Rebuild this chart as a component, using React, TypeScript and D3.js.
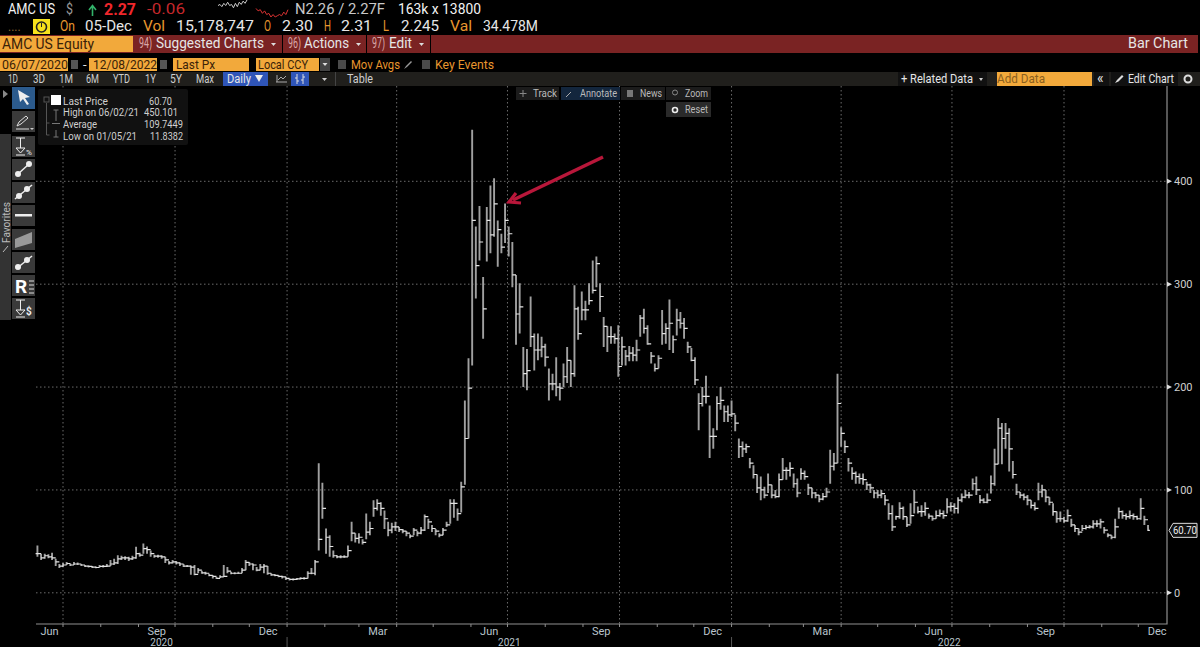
import * as d3 from 'd3';

const barStart = new Date(2020, 5, 10);
const barStepDays = 3;

const barClose = [
  38,34,36,35,34,30,26,27,28.5,27,
  28,28,27,26,25.6,25,24.6,25.6,25.6,26,
  28,29,33,34,34,33,34,38,36.6,43,
  42,38,35.6,35.6,35,32,29,30,29,28,
  26,26,25,18,22,19.4,19,17,16,14,
  15.5,16,21,19,19,19,22,29.5,28,27,
  22,25,26,19,17.5,17,16,15.5,14,13,
  13,13.6,14,14,19,19,30,52,82,54,
  45,36,35,35,35,41,58,53,54,49,
  59,62.5,82,87,82,72,61,64,64,61.5,
  60,58,55,61,58,61,74,69,62.5,60,
  56,61,66,87,87,77,103,150,199,362,
  318,341,276,362,348,378,353,336,362,349,
  309,271,278,213,216,249,236,236,239,229,
  203,203,200,199,210,226,213,276,252,275,
  275,284,294,320,288,259,249,249,247,220,
  239,230,233,231,236,267,257,242,230,218,
  228,252,257,262,246,265,262,257,239,226,
  207,184,191,191,152,152,184,187,176,173,
  174,165,142,140,142,126,115,102,100,95,
  105,95,93.5,110,119,119,121,106,97,116,
  113,102,97,95,91,93.5,98,123,126,184,
  155,142,126,116,113,111,110,105,102,97,
  95,96.5,90,77,64,74,82,74,66,75,
  88,79,79,82,74.5,72,75,77,75,83.6,
  84,82,90,93,95,95,106,100,90,88,
  90,106,125,160,150,155,140,115,98,95,
  93,90,85,82,98,100,93,88,79,72,
  72,70,75,66,62.5,59,62.5,63.5,64,67,
  67,69,61,56,54,64,79,75,74,75,
  74,72,82,71,60.7,
];

const barHigh = [
  46,38,38,37.5,39,33,28,29,30,28.5,
  30,29.5,28,27,26.5,26,25.6,27,27,28,
  32,33,36.6,36,35.5,35,36,44.7,39,48,
  45,41,37,37,36.5,35,31,32,31,29.5,
  28,27,26.5,27,24,21.5,20.5,18.5,17,15.5,
  17,27,25,20.5,20,20.5,24,32,30,28.5,
  25,28,28,26,19,18,17,16.5,15.5,14,
  14,14.5,15,15,21,24,32,126,107,62.5,
  56,41,36.5,36.5,36.5,46,69,58,58,52,
  77,69,90,91,88,80,69,68,69,64,
  62,60,57,63,60,64,76,72,66,62,
  58,63,69,91,91,82,108,187,228,450,
  356,376,307,375,396,403,362,349,378.5,356,
  341,309,301,239,237,288,252,252,249,242,
  218,213,229,204,223,239,226,299,278,293,
  284,301,323,327,301,268,259,259,252,260,
  249,236,240,239,246,270,276,260,234,223,
  231,275,262,285,250,276,273,267,244,238,
  229,194,200,211,182,160,191,200,182,182,
  187,173,150,147,145,131,124,115,113,103,
  116,105,100,116,131,122,127,116,111,121,
  119,106,102,98,95,97,102,139,136,213,
  161,148,131,122,118,116,116,108,106,100,
  100,100,95,87,85,75,88,84,74,87,
  100,84,85,88,77,75,80,81,80,92,
  88,87,93,96.5,100,98,111,113,95,92,
  96.5,114,140,170,165,165,160,128,106,98,
  96.5,95,90,88,107,105,100,93,87,79,
  79,74,81,72,66,62.5,66,66,66,70.6,
  70.6,72,64,58,56,72,83,80,77,80,
  77,75,92,75,66,
];

const barLow = [
  35,32,33,33.5,32,26,24,25,27,26,
  27,27,26,25,24.5,24,23.8,24.5,24.5,25,
  26,27,28,32,32,31,32,33,35,38,
  38,35,34,34,33,29,27.5,28.5,27.5,26,
  25,25,17.5,17,19,18.5,17.5,16,14,13.5,
  14.5,15.5,19,18,18,18.5,19,22,26,22,
  21,22,19,17.5,16.5,16,15,14,12.5,12,
  12,12.5,13,13,14,18,17,41,72,38,
  35,34,33.5,33.5,34,35,50,49,48,47,
  52,56,74,80,75,62,55,58,60,59,
  58,55,53,56,55,57,60,62,59,56,
  54,56,64,67,73,70,78,105,150,221,
  286,323,247,322,330,346,317,330,340,327,
  297,241,252,200,197,239,216,226,229,220,
  187,197,191,187,200,204,200,210,246,265,
  265,280,291,297,273,239,234,242,242,210,
  221,221,225,225,225,249,252,241,223,215,
  218,241,242,236,233,250,257,247,233,225,
  202,158,181,184,131,140,158,178,166,166,
  171,157,131,132,136,121,111,97,90,92,
  97,92,92,93,110,110,113,102,93,110,
  110,95,92,92,88,90,93,106,119,126,
  142,136,118,110,106,106,105,100,97,92,
  92,92,85,71,60,71,72,71,64,67,
  77,77,74,75,72,70,72,74,72,77,
  79,77,77,88,92,92,100,95,87,87,
  87,96.5,104,125,125,140,118,111,95,92,
  90,85,82,80,90,93,88,85,75,68,
  69,68,69,64,59,56,60,61.5,62.5,62.5,
  64,62.5,57.7,54,52,53,72,72,71,72,
  71,71,71,66,60,
];

const yTicks = [0, 100, 200, 300, 400];
const quarterMonths = ['2020-06', '2020-09', '2020-12', '2021-03', '2021-06', '2021-09', '2021-12', '2022-03', '2022-06', '2022-09', '2022-12'];
const monthNames: Record<string, string> = { '06': 'Jun', '09': 'Sep', '12': 'Dec', '03': 'Mar' };
const years = [2020, 2021, 2022];
const lastPrice = 60.7;

const sparkWhite = [5, 4, 6, 3, 5, 2, 5, 4, 7, 3, 6, 2, 4, 1, 3, 0];
const sparkRed = [2, 4, 3, 6, 4, 7, 6, 9, 7, 9, 8, 7, 8, 5, 7, 3];

const rangeButtons: [string, number, number][] = [['1D', 8, 10], ['3D', 33, 12], ['1M', 59, 14], ['6M', 86, 13], ['YTD', 113, 17], ['1Y', 145, 11], ['5Y', 170, 12], ['Max', 196, 18]];

const quoteRow: [string, number, number, string][] = [
  ['On', 60, 15, '#e8962e'], ['05-Dec', 85, 47, '#e6e6e6'], ['Vol', 143, 22, '#e8962e'], ['15,178,747', 176, 78, '#e6e6e6'],
  ['O', 264, 7, '#e8962e'], ['2.30', 282, 31, '#e6e6e6'], ['H', 324, 7, '#e8962e'], ['2.31', 341, 31, '#e6e6e6'],
  ['L', 383, 6, '#e8962e'], ['2.245', 401, 38, '#e6e6e6'], ['Val', 450, 22, '#e8962e'], ['34.478M', 483, 55, '#e6e6e6'],
];

const legendRows = [
  { label: 'Last Price', w: 45, value: '60.70', vx: 149, vw: 23, y: 105 },
  { label: 'High on 06/02/21', w: 76, value: '450.101', vx: 144, vw: 34, y: 116 },
  { label: 'Average', w: 34, value: '109.7449', vx: 144, vw: 39, y: 128 },
  { label: 'Low on 01/05/21', w: 74, value: '11.8382', vx: 150, vw: 33, y: 140 },
];

const FONT = 'Roboto, "Liberation Sans", sans-serif';
const ORANGE = '#f2a93b';
const AMBER = '#e8962e';
const MAROON = '#7a2323';
const INK = '#3a2208';

const plot = { left: 36, right: 1167, top: 86, bottom: 624 };

// w squeezes the text to the width it has in the reference
function T({ x, y, c = '#e6e6e6', s = 12, a, w, fw, children }: any) {
  return (
    <text x={x} y={y} fill={c} fontSize={s} textAnchor={a} fontWeight={fw} fontFamily={FONT}
      textLength={w} lengthAdjust={w ? 'spacingAndGlyphs' : undefined}>
      {children}
    </text>
  );
}

function ToolButton({ y, children }: any) {
  return (
    <g transform={`translate(12,${y})`}>
      <rect width={23} height={21} fill="#3a3a3a" />
      {children}
    </g>
  );
}

export default function App() {
  const x = d3.scaleTime()
    .domain([new Date(2020, 6, 1), new Date(2022, 9, 1)])
    .range([63, 1064]);
  const y = d3.scaleLinear().domain([0, 400]).range([592.8, 181.3]);

  const barDates = barClose.map((_, i) => d3.timeDay.offset(barStart, i * barStepDays));
  const half = (x(barDates[1]) - x(barDates[0])) / 2;

  const stems = d3.path();
  const ticks = d3.path();
  barDates.forEach((d, i) => {
    const px = x(d);
    stems.moveTo(px, y(barHigh[i]));
    stems.lineTo(px, y(barLow[i]));
    const open = i > 0 ? barClose[i - 1] : barClose[0];
    ticks.moveTo(px - half, y(open));
    ticks.lineTo(px, y(open));
    ticks.moveTo(px, y(barClose[i]));
    ticks.lineTo(px + half, y(barClose[i]));
  });

  const gridMonths = d3.timeMonth.range(new Date(2020, 6, 1), new Date(2022, 11, 2), 3);
  const minorMonths = d3.timeMonth.range(new Date(2020, 6, 1), new Date(2022, 11, 2));
  const yearEdges = [plot.left, x(new Date(2021, 0, 1)), x(new Date(2022, 0, 1)), plot.right];

  const monthLabelX = (m: string) => {
    const [yr, mo] = m.split('-').map(Number);
    const a = Math.max(plot.left, x(new Date(yr, mo - 1, 1)));
    const b = x(new Date(yr, mo, 1));
    return (a + b) / 2;
  };

  const sparkX = d3.scaleLinear().domain([0, sparkWhite.length - 1]);
  const sparkY = d3.scaleLinear().domain([0, 9]);
  const whiteLine = d3.line<number>().x((_, i) => sparkX.range([218, 247])(i)).y(d => sparkY.range([0, 10])(d));
  const redLine = d3.line<number>().x((_, i) => sparkX.range([256, 288])(i)).y(d => sparkY.range([6, 17])(d));

  return (
    <svg width={1200} height={647} viewBox="0 0 1200 647" style={{ position: 'absolute', left: 0, top: 0, background: '#000' }}>
      <rect width={1200} height={647} fill="#000" />

      {/* quote header */}
      <g>
        <T x={8} y={14} s={15} c="#f2f2f2" w={47}>AMC US</T>
        <T x={66} y={14} s={15} c="#999" w={7}>$</T>
        <path d="M92.500 16V6M89 10l3.500-4.500L96 10" stroke="#32b36a" strokeWidth={1.6} fill="none" />
        <T x={104} y={15} s={16} c="#f0272c" fw={700} w={32}>2.27</T>
        <T x={147} y={14} s={15} c="#c5282c" w={38}>-0.06</T>
        <path d={whiteLine(sparkWhite) ?? ''} stroke="#ccc" fill="none" />
        <path d={redLine(sparkRed) ?? ''} stroke="#d33" fill="none" />
        <T x={295} y={14} s={15} c="#c8c8c8" w={90}>N2.26 / 2.27F</T>
        <T x={398} y={14} s={15} c="#f2f2f2" w={83}>163k x 13800</T>

        <T x={8} y={31} s={12} c="#8a6a30">....</T>
        <rect x={33} y={19} width={17} height={15} fill="#f6e11c" />
        <circle cx={41.500} cy={27} r={5} fill="none" stroke="#222" strokeWidth={1.6} />
        <path d="M41.500 27v-4" stroke="#222" />
        {quoteRow.map(([label, qx, qw, qc]) => (
          <T key={label} x={qx} y={31} s={15} c={qc} w={qw}>{label}</T>
        ))}
      </g>

      {/* red command bar */}
      <rect x={0} y={35} width={1198} height={18} fill={MAROON} />
      <rect x={0} y={36} width={133} height={16} fill={ORANGE} />
      <T x={2} y={49} s={15} c={INK} w={92}>AMC US Equity</T>
      <T x={139} y={48} s={14} c="#d9a8a8" w={13}>94)</T>
      <T x={156} y={48} s={15} w={108}>Suggested Charts</T>
      <path d="M271 43l5 0-2.500 3z" fill="#ddd" />
      <rect x={282} y={35} width={1} height={18} fill="#000" />
      <T x={288} y={48} s={14} c="#d9a8a8" w={13}>96)</T>
      <T x={304} y={48} s={15} w={45}>Actions</T>
      <path d="M356 43l5 0-2.500 3z" fill="#ddd" />
      <rect x={366} y={35} width={1} height={18} fill="#000" />
      <T x={372} y={48} s={14} c="#d9a8a8" w={13}>97)</T>
      <T x={389} y={48} s={15} w={23}>Edit</T>
      <path d="M419 43l5 0-2.500 3z" fill="#ddd" />
      <rect x={430} y={35} width={1} height={18} fill="#000" />
      <T x={1128} y={48} s={15} w={60}>Bar Chart</T>

      {/* date range row */}
      <rect x={0} y={58} width={68} height={13} fill={ORANGE} />
      <T x={2} y={69} s={13} c={INK} w={66}>06/07/2020</T>
      <rect x={71} y={60} width={7} height={9} fill="#555" />
      <T x={83} y={69} s={13}>-</T>
      <rect x={89} y={58} width={68} height={13} fill={ORANGE} />
      <T x={93} y={69} s={13} c={INK} w={64}>12/08/2022</T>
      <rect x={160} y={60} width={7} height={9} fill="#555" />
      <rect x={173} y={58} width={76} height={13} fill={ORANGE} />
      <T x={176} y={69} s={13} c={INK} w={39}>Last Px</T>
      <rect x={256} y={58} width={63} height={13} fill={ORANGE} />
      <T x={258} y={69} s={13} c={INK} w={50}>Local CCY</T>
      <rect x={320} y={58} width={10} height={13} fill="#444" />
      <path d="M322.500 63l5 0-2.500 3z" fill="#ddd" />
      <rect x={338} y={60} width={8} height={9} fill="#4a4a4a" />
      <T x={351} y={69} s={13} c={AMBER} w={49}>Mov Avgs</T>
      <path d="M404 69l2-3 5-5 1 1-5 5z" fill="#999" />
      <rect x={422} y={60} width={8} height={9} fill="#4a4a4a" />
      <T x={435} y={69} s={13} c={AMBER} w={59}>Key Events</T>

      {/* toolbar row */}
      <rect x={0} y={72} width={1200} height={14} fill="#201f1c" />
      {rangeButtons.map(([label, bx, bw]) => (
        <T key={label} x={bx} y={83} s={12} c="#cfcfcf" w={bw}>{label}</T>
      ))}
      <rect x={223} y={72} width={45} height={14} fill="#2f55b8" />
      <T x={227} y={83} s={12.500} w={24}>Daily</T>
      <path d="M255 75h8l-4 7z" fill="#eee" />
      <path d="M276 82h11M277 82v-7M278 80l3-3 2 2 3-3" stroke="#aaa" fill="none" />
      <rect x={291} y={72} width={18} height={14} fill="#2f55b8" />
      <path d="M297 74v10M303 74v10M295 78h2M297 81h2M303 77h2M301 80h2" stroke="#ddd" fill="none" />
      <path d="M322 78l5 0-2.500 3z" fill="#ccc" />
      <rect x={335} y={72} width={1} height={14} fill="#444" />
      <T x={347} y={83} s={12.500} c="#cfcfcf" w={26}>Table</T>
      <rect x={898} y={72} width={89} height={14} fill="#111" />
      <T x={901} y={83} s={13} w={72}>+ Related Data</T>
      <path d="M979 78l4 0-2 3z" fill="#ccc" />
      <rect x={997} y={72} width={95} height={14} fill={ORANGE} />
      <T x={997} y={83} s={13} c="#8a5f1e" w={48}>Add Data</T>
      <rect x={1094} y={72} width={15} height={14} fill="#111" />
      <T x={1097} y={83} s={14}>«</T>
      <rect x={1111} y={72} width={67} height={14} fill="#111" />
      <path d="M1115 83l2-3 5-5 1.500 1.500-5 5z" fill="#ddd" />
      <T x={1128} y={83} s={13} w={46}>Edit Chart</T>
      <circle cx={1188} cy={79} r={3.500} fill="none" stroke="#ddd" strokeWidth={2} />

      {/* grid */}
      <g stroke="#6b6b6b" strokeWidth={1} strokeDasharray="1.5 2.5">
        {gridMonths.map(d => (
          <line key={+d} x1={x(d)} x2={x(d)} y1={plot.top} y2={plot.bottom} />
        ))}
        {yTicks.map(t => (
          <line key={t} x1={plot.left} x2={plot.right} y1={y(t)} y2={y(t)} />
        ))}
      </g>

      {/* price bars */}
      <path d={stems.toString()} stroke="#a0a0a0" strokeWidth={1.9} fill="none" />
      <path d={ticks.toString()} stroke="#e4e4e4" strokeWidth={1.2} fill="none" />

      {/* annotation arrow */}
      <path d="M603 157L513 200" stroke="#b8173a" strokeWidth={3.6} fill="none" />
      <path d="M516 193L509 202L521 203" stroke="#b8173a" strokeWidth={3.2} fill="none" />

      {/* axes */}
      <path d={`M${plot.left} ${plot.bottom}H${plot.right}V${plot.top}`} stroke="#8f8f8f" strokeWidth={1.2} fill="none" />
      {minorMonths.map(d => (
        <line key={+d} x1={x(d)} x2={x(d)} y1={plot.bottom} y2={plot.bottom + 3} stroke="#8f8f8f" />
      ))}
      {yTicks.map(t => (
        <g key={t}>
          <path d={`M${plot.right} ${y(t) - 2.500}l5 2.500-5 2.500z`} fill="#ddd" />
          <T x={1174} y={y(t) + 4} s={11} c="#cfcfcf">{t}</T>
        </g>
      ))}
      {quarterMonths.map(m => (
        <T key={m} x={monthLabelX(m)} y={635} s={11} a="middle" c="#b9c4cc">{monthNames[m.slice(5)]}</T>
      ))}
      {years.map((yr, i) => (
        <T key={yr} x={(yearEdges[i] + yearEdges[i + 1]) / 2} y={645.500} s={10} a="middle" c="#b9c4cc">{yr}</T>
      ))}
      {yearEdges.slice(1, 3).map(e => (
        <line key={e} x1={e} x2={e} y1={637} y2={647} stroke="#555" />
      ))}

      {/* last price flag */}
      <path d={`M1169 ${y(lastPrice)}l4-7h24v14h-24z`} fill="#111" stroke="#ddd" />
      <T x={1173} y={y(lastPrice) + 4} s={11} c="#eee" w={24}>60.70</T>

      {/* legend */}
      <rect x={38} y={89} width={150} height={56} rx={2} fill="#111" />
      <rect x={51} y={95} width={10} height={10} fill="#fff" />
      <rect x={44} y={97} width={5} height={5} fill="none" stroke="#555" />
      <path d="M46.500 103v32h3M46.500 123h3" stroke="#555" fill="none" />
      <path d="M56 110v11M53.500 110h5M52 123.500h8M56 130v7M53.500 137h5" stroke="#777" fill="none" />
      {legendRows.map(r => (
        <g key={r.label}>
          <T x={63} y={r.y} s={11} c="#cfcfcf" w={r.w}>{r.label}</T>
          <T x={r.vx} y={r.y} s={11} c="#cfcfcf" w={r.vw}>{r.value}</T>
        </g>
      ))}

      {/* floating chart buttons */}
      <rect x={516} y={87} width={43} height={13} fill="#1c1c1c" />
      <T x={533} y={97} s={11} c="#bbb" w={24}>Track</T>
      <path d="M523 90v7M519.500 93.500h7" stroke="#888" />
      <rect x={561} y={87} width={59} height={13} fill="#13263d" />
      <path d="M566 97l5-5" stroke="#aaa" />
      <T x={580} y={97} s={11} c="#bbb" w={37}>Annotate</T>
      <rect x={621} y={87} width={44} height={13} fill="#1c1c1c" />
      <rect x={627} y={90} width={6} height={7} fill="#777" />
      <T x={640} y={97} s={11} c="#bbb" w={22}>News</T>
      <rect x={666} y={87} width={45} height={13} fill="#1c1c1c" />
      <circle cx={675} cy={92.500} r={2.500} fill="none" stroke="#888" />
      <T x={685} y={97} s={11} c="#bbb" w={23}>Zoom</T>
      <rect x={666} y={102} width={45} height={15} fill="#2a2a2a" />
      <circle cx={675} cy={110} r={2.500} fill="none" stroke="#eee" strokeWidth={1.6} />
      <T x={685} y={113} s={11} c="#bbb" w={23}>Reset</T>

      {/* drawing tools */}
      <path d="M3 90l5 4-5 4z" fill="#888" />
      <rect x={12} y={87} width={23} height={22} fill="#2b5a8c" />
      <path d="M18 90l12 7-5 1 4 6-2 1-4-6-3 3z" fill="#eee" />
      <ToolButton y={111}>
        <path d="M5 15l2-4 7-6 2 2-7 6zM4 18h13" stroke="#ddd" fill="none" />
        <path d="M18 17h4l-2 2z" fill="#ccc" />
      </ToolButton>
      <rect x={0} y={134} width={11} height={186} fill="#333" />
      <g transform="translate(9.500,243) rotate(-90)">
        <T x={0} y={0} s={10.500} c="#bbb" w={41}>Favorites</T>
      </g>
      <path d="M3 252l5-6" stroke="#bbb" />
      <ToolButton y={136}>
        <path d="M4 2h9M8.500 2v10M4 12h9l-4.500 5zM4 19h9" stroke="#eee" fill="none" />
        <T x={14} y={19} s={8} c="#eee">%</T>
      </ToolButton>
      <ToolButton y={159}>
        <path d="M6 15L17 5" stroke="#eee" strokeWidth={1.500} />
        <circle cx={6} cy={15} r={3} fill="#eee" /><circle cx={17} cy={5} r={3} fill="#eee" />
      </ToolButton>
      <ToolButton y={182}>
        <path d="M3 17L20 3" stroke="#eee" strokeWidth={1.500} />
        <circle cx={7} cy={14} r={3} fill="#eee" /><circle cx={15} cy={7} r={3} fill="#eee" />
      </ToolButton>
      <ToolButton y={205}>
        <rect x={3} y={9} width={17} height={2.500} fill="#eee" />
      </ToolButton>
      <ToolButton y={229}>
        <path d="M3 10L20 3V14L3 19z" fill="#999" />
      </ToolButton>
      <ToolButton y={252}>
        <path d="M4 17L20 4" stroke="#eee" strokeWidth={1.500} />
        <circle cx={6} cy={15} r={3} fill="#eee" /><circle cx={15} cy={8} r={3} fill="#eee" />
      </ToolButton>
      <ToolButton y={275}>
        <T x={3} y={18} s={19} c="#fff" fw={700}>R</T>
        <path d="M17 6h5M17 10h5M17 14h5M17 18h5" stroke="#ddd" />
      </ToolButton>
      <ToolButton y={298}>
        <path d="M4 2h9M8.500 2v10M4 12h9l-4.500 5zM4 19h9" stroke="#eee" fill="none" />
        <T x={14} y={17} s={10} c="#eee" fw={700}>$</T>
      </ToolButton>
    </svg>
  );
}
